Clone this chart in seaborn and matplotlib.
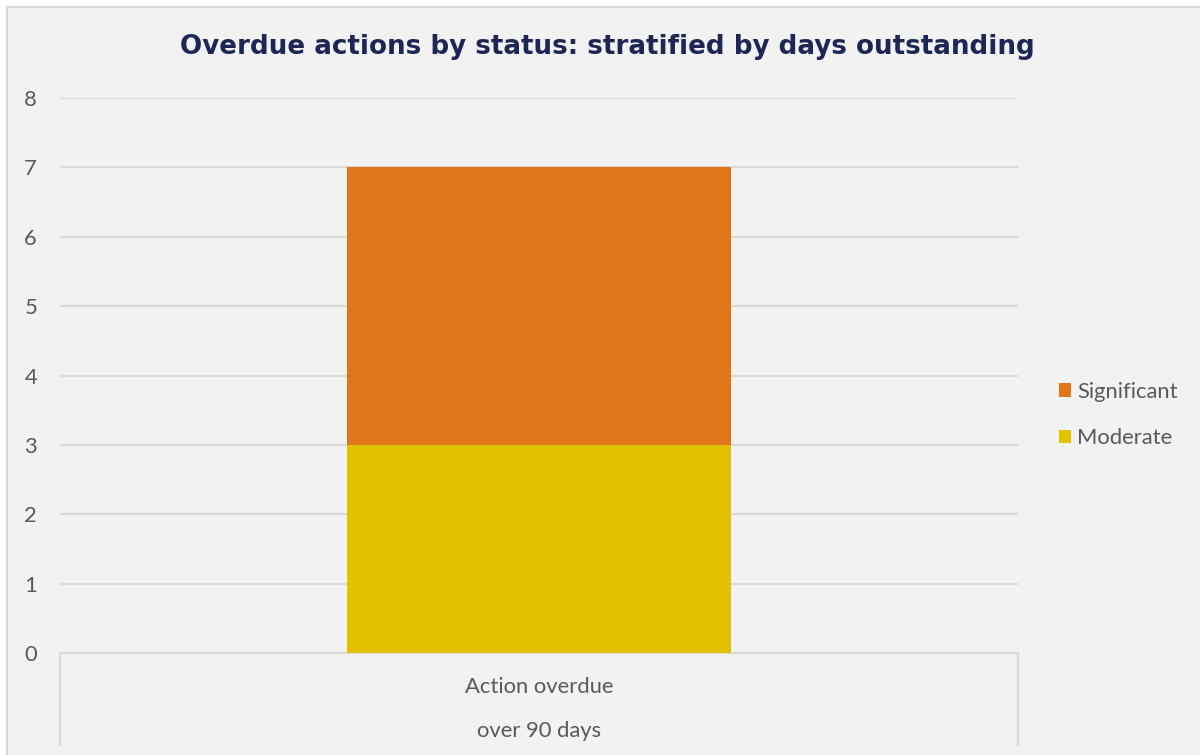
import matplotlib
matplotlib.use("Agg")
import matplotlib.pyplot as plt
import seaborn as sns
import pandas as pd
from matplotlib.patches import Rectangle, Patch
from matplotlib.lines import Line2D

categories = ["Action overdue"]
category_line2 = ["over 90 days"]
moderate = [3]
significant = [4]
series_names = ["Significant", "Moderate"]
yticks = [0, 1, 2, 3, 4, 5, 6, 7, 8]
title = "Overdue actions by status: stratified by days outstanding"

c_mod = "#E1C100"
c_sig = "#E07519"
grid_c = "#D9D9D9"
txt_c = "#595959"
bg = "#F2F2F2"
fs = 15.8

sns.set_theme(style="white")
plt.rcParams["font.family"] = ["Lato", "DejaVu Sans"]

df = pd.DataFrame({"cat": categories, "moderate": moderate, "significant": significant})

fig = plt.figure(figsize=(12, 7.55), dpi=100)
fig.patch.set_facecolor("white")
fig.patches.append(Rectangle((7 / 1200, -0.1), 1.2, 1.1 - 7 / 755, transform=fig.transFigure,
                             facecolor=bg, edgecolor=grid_c, linewidth=1.5, zorder=-5))

ax = fig.add_axes([60 / 1200, (755 - 653) / 755, (1018 - 60) / 1200, (653 - 98) / 755])
ax.set_zorder(1)
ax.patch.set_alpha(0)

sns.barplot(data=df, x="cat", y="moderate", color=c_mod, width=0.4, ax=ax,
            saturation=1, edgecolor="none", linewidth=0, zorder=3)
sns.barplot(data=df, x="cat", y="significant", bottom=df["moderate"], color=c_sig, width=0.4,
            ax=ax, saturation=1, edgecolor="none", linewidth=0, zorder=3)

ax.set_xlim(-0.5, 0.5)
ax.set_ylim(0, 8)
ax.set_yticks(yticks)
ax.set_yticklabels([str(v) for v in yticks], fontsize=fs, color=txt_c)
ax.tick_params(axis="y", length=0, pad=16.5)
ax.tick_params(axis="x", length=0, pad=17)
ax.set_xticks(range(len(categories)))
ax.set_xticklabels(categories, fontsize=fs, color=txt_c)
for i, t in enumerate(category_line2):
    ax.text(i, -78 / 555, t, transform=ax.get_xaxis_transform(), ha="center", va="center",
            fontsize=fs, color=txt_c)
ax.set_xlabel("")
ax.set_ylabel("")
ax.yaxis.grid(True, color=grid_c, linewidth=1.5, zorder=0)
ax.set_axisbelow(True)
for s in ["top", "right", "left"]:
    ax.spines[s].set_visible(False)
ax.spines["bottom"].set_color(grid_c)
ax.spines["bottom"].set_linewidth(1.5)

for xx in [0, 1]:
    ax.add_line(Line2D([xx, xx], [0, -92 / 555], transform=ax.transAxes, color=grid_c,
                       linewidth=1.5, clip_on=False))

handles = [Patch(facecolor=c_sig, edgecolor="none"), Patch(facecolor=c_mod, edgecolor="none")]
leg = fig.legend(handles, series_names, loc="center left", bbox_to_anchor=(1039 / 1200, (755 - 415) / 755),
                 frameon=False, fontsize=fs, handlelength=0.55, handleheight=0.55, handletextpad=0.3,
                 labelspacing=1.2, labelcolor=txt_c)

fig.text(607 / 1200, (755 - 47) / 755, title, ha="center", va="center", fontsize=18.8,
         fontweight="bold", color="#1C2755", family=["DejaVu Sans"])

fig.savefig("out.png", dpi=100, facecolor=fig.get_facecolor())
